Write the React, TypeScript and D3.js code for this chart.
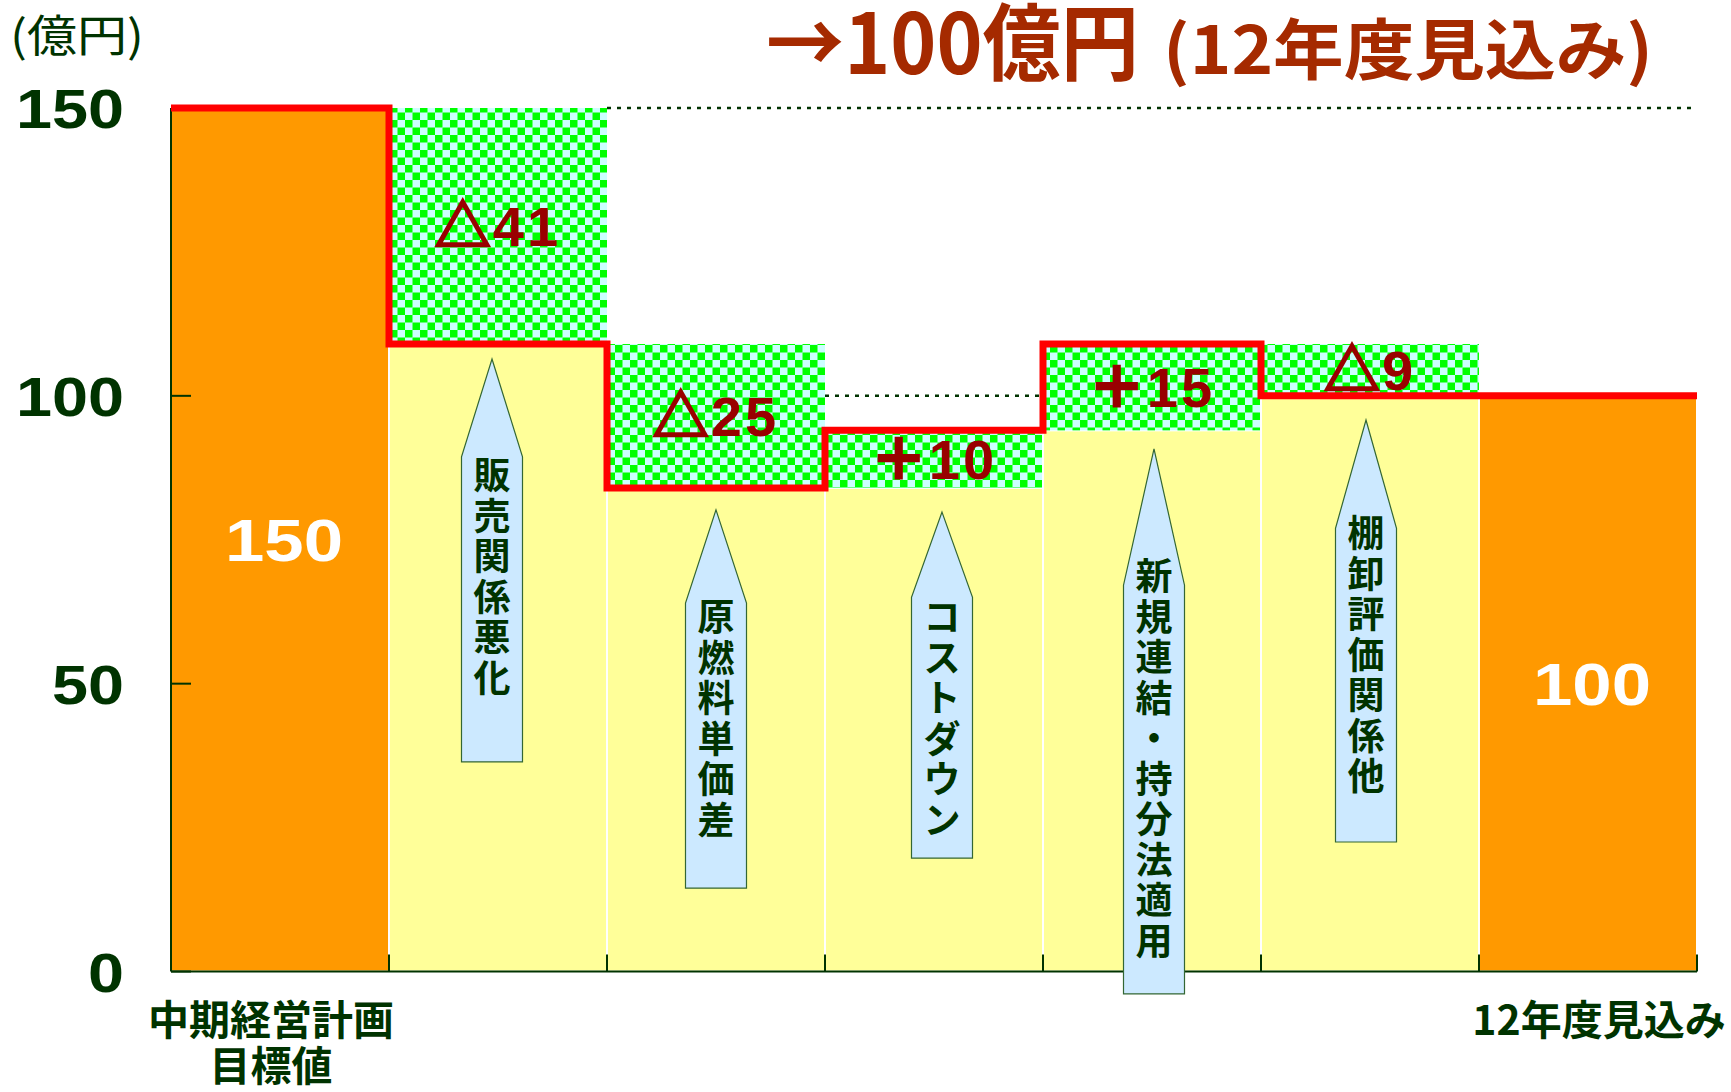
import React from "react";
import * as d3 from "d3";

const categories = ["中期経営計画目標値", "販売関係悪化", "原燃料単価差", "コストダウン", "新規連結・持分法適用", "棚卸評価関係他", "12年度見込み"];
const levels = [150, 109, 84, 94, 109, 100, 100];
const kinds = ["total", "delta", "delta", "delta", "delta", "delta", "total"];
const deltaSigns = ["", "△", "△", "＋", "＋", "△", ""];
const deltaValues = ["", "41", "25", "10", "15", "9", ""];
const totalLabels = ["150", "", "", "", "", "", "100"];
const yTicks = [0, 50, 100, 150];
const xAxisLabels = [["中期経営計画", "目標値"], [], [], [], [], [], ["12年度見込み"]];
// annotation arrows (value units)
const arrowTip = [NaN, 106.4, 80.2, 79.8, 90.8, 95.8, NaN];
const arrowShoulder = [NaN, 89.4, 64.0, 65.0, 67.1, 77.0, NaN];
const arrowBottom = [NaN, 36.4, 14.5, 19.7, -3.9, 22.5, NaN];
const arrowTextTop = [NaN, 89.7, 65.0, 65.0, 72.1, 79.6, NaN];
const arrowShift = [0, -6, 0, 8, 2, -4, 0];
const unitLabel = "(億円)";
const titleMain = "→100億円";
const titleSub = "(12年度見込み)";

const W = 1731, H = 1092;
const DG = "#003300";
const JP = "'Noto Sans CJK JP', 'Noto Sans', sans-serif";
const NUM = "'Liberation Sans', Arial, sans-serif";

export default function App() {
  const x = d3.scaleBand<string>().domain(categories).range([171, 1697]).padding(0);
  const y = d3.scaleLinear().domain([0, 150]).range([971.5, 108]);
  const bw = x.bandwidth();

  const stepPts: [number, number][] = [];
  categories.forEach((c, i) => {
    const x0 = x(c)!;
    stepPts.push([x0, y(levels[i])]);
    stepPts.push([x0 + bw, y(levels[i])]);
  });
  const line = d3.line<[number, number]>().x(d => d[0]).y(d => d[1]);

  return (
    <svg width={W} height={H} style={{ position: "absolute", left: 0, top: 0, background: "#fff" }}>
      <defs>
        <pattern id="chk" width={15} height={15} patternUnits="userSpaceOnUse">
          <rect width={15} height={15} fill="#ccffff" />
          <rect x={0} y={0} width={7.5} height={7.5} fill="#00ff00" />
          <rect x={7.5} y={7.5} width={7.5} height={7.5} fill="#00ff00" />
        </pattern>
      </defs>

      {/* bars */}
      {categories.map((c, i) => {
        const x0 = x(c)!;
        if (kinds[i] === "total") {
          return <rect key={c} x={x0} y={y(levels[i])} width={bw} height={y(0) - y(levels[i])} fill="#ff9900" stroke="#fff" strokeWidth={2} />;
        }
        const lo = Math.min(levels[i - 1], levels[i]);
        const hi = Math.max(levels[i - 1], levels[i]);
        return (
          <g key={c}>
            <rect x={x0} y={y(lo)} width={bw} height={y(0) - y(lo)} fill="#ffff99" stroke="#fff" strokeWidth={2} />
            <rect x={x0} y={y(hi)} width={bw} height={y(lo) - y(hi)} fill="url(#chk)" />
          </g>
        );
      })}

      {/* dotted reference lines */}
      <line x1={x(categories[2])!} x2={x(categories[6])! + bw} y1={y(150)} y2={y(150)} stroke={DG} strokeWidth={2.5} strokeDasharray="4,6" />
      <line x1={x(categories[3])!} x2={x(categories[4])!} y1={y(100)} y2={y(100)} stroke={DG} strokeWidth={2.5} strokeDasharray="4,6" />

      {/* axes */}
      <line x1={x.range()[0]} x2={x.range()[0]} y1={y(150)} y2={y(0)} stroke={DG} strokeWidth={2} />
      <line x1={x.range()[0]} x2={x.range()[1]} y1={y(0)} y2={y(0)} stroke={DG} strokeWidth={2} />
      {yTicks.map(t => (
        <g key={t}>
          <line x1={x.range()[0]} x2={x.range()[0] + 20} y1={y(t)} y2={y(t)} stroke={DG} strokeWidth={2} />
          <text x={124} y={y(t) + 20} textAnchor="end" fontFamily={NUM} fontWeight="bold" fontSize={56} fill={DG}
            textLength={36 * String(t).length} lengthAdjust="spacingAndGlyphs">{t}</text>
        </g>
      ))}
      {categories.map(c => (
        <line key={c} x1={x(c)! + bw} x2={x(c)! + bw} y1={y(0)} y2={y(0) - 17} stroke={DG} strokeWidth={2} />
      ))}

      {/* step line */}
      <path d={line(stepPts)!} fill="none" stroke="#ff0000" strokeWidth={7} strokeLinejoin="miter" />

      {/* total labels */}
      {categories.map((c, i) => totalLabels[i] ? (
        <text key={c} x={x(c)! + bw / 2 + 4} y={y(levels[i] / 2) + 21} textAnchor="middle" fontFamily={NUM} fontWeight="bold"
          fontSize={60} fill="#fff" textLength={118} lengthAdjust="spacingAndGlyphs">{totalLabels[i]}</text>
      ) : null)}

      {/* delta labels */}
      {categories.map((c, i) => deltaSigns[i] ? (
        <text key={c} x={x(c)! + bw / 2} y={y((levels[i - 1] + levels[i]) / 2) + 20} textAnchor="middle"
          fontSize={56} fill="#990000" fontWeight="bold">
          <tspan fontFamily={JP} fontWeight="bold" stroke="#990000" strokeWidth={2.5}>{deltaSigns[i]}</tspan>
          <tspan fontFamily={NUM} letterSpacing={3} dx={2}>{deltaValues[i]}</tspan>
        </text>
      ) : null)}

      {/* arrows */}
      {categories.map((c, i) => {
        if (isNaN(arrowTip[i])) return null;
        const cx = x(c)! + bw / 2 + arrowShift[i];
        const hw = 30.5;
        const pts: [number, number][] = [
          [cx, y(arrowTip[i])], [cx + hw, y(arrowShoulder[i])], [cx + hw, y(arrowBottom[i])],
          [cx - hw, y(arrowBottom[i])], [cx - hw, y(arrowShoulder[i])],
        ];
        const chars = Array.from(c);
        const top = y(arrowTextTop[i]);
        return (
          <g key={c}>
            <path d={line(pts)! + "Z"} fill="#cce9ff" stroke="#336633" strokeWidth={1.2} />
            {chars.map((ch, k) => (
              <text key={k} x={cx} y={top + k * 40.5 + 34} textAnchor="middle" fontFamily={JP} fontWeight="bold" fontSize={37} fill={DG}>{ch}</text>
            ))}
          </g>
        );
      })}

      {/* x axis labels */}
      {categories.map((c, i) => xAxisLabels[i].map((s, k) => (
        <text key={c + k} x={x(c)! + bw / 2 + (i === 0 ? -9 : 11)} y={1035 + k * 46} textAnchor="middle" fontFamily={JP} fontWeight="bold" fontSize={41} fill={DG}>{s}</text>
      )))}

      {/* unit */}
      <text x={10} y={52} fontFamily={JP} fontSize={44} fill={DG} textLength={134} lengthAdjust="spacingAndGlyphs">{unitLabel}</text>

      {/* title */}
      <text x={766} y={74} fontFamily={JP} fontWeight="bold" fontSize={84} fill="#a52a00" textLength={373} lengthAdjust="spacingAndGlyphs">{titleMain}</text>
      <text x={1163} y={74} fontFamily={JP} fontWeight="bold" fontSize={66} fill="#a52a00" textLength={490} lengthAdjust="spacingAndGlyphs">{titleSub}</text>
    </svg>
  );
}
